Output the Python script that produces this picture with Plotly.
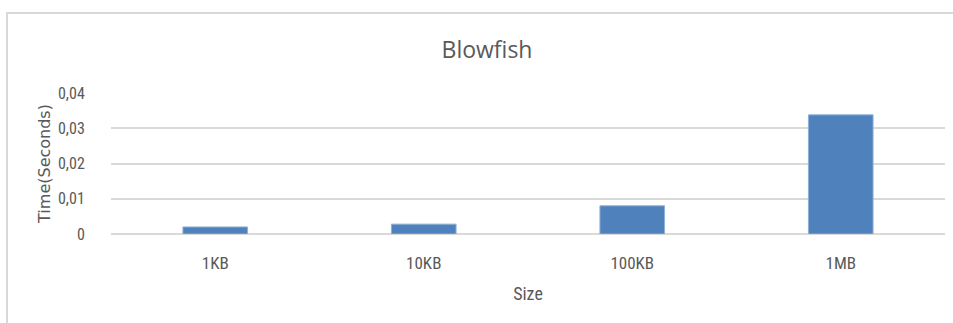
import plotly.graph_objects as go

categories = ["1KB", "10KB", "100KB", "1MB"]
times = [0.002, 0.0028, 0.008, 0.0338]
y_tickvals = [0, 0.01, 0.02, 0.03, 0.04]
y_ticktext = ["0", "0,01", "0,02", "0,03", "0,04"]

W, H = 953, 323
L, R, T, B = 111, 8, 93, 89
pw, ph = W - L - R, H - T - B

def px_x(x):
    return (x - L) / pw

def px_y(y):
    return (H - B - y) / ph

font_main = "Roboto Condensed, Liberation Sans Narrow, Lato, sans-serif"
txt = "#595959"

fig = go.Figure(go.Bar(
    x=categories, y=times,
    marker=dict(color="#4f81bd", line=dict(color="#8fb0d8", width=1)),
    width=0.31,
))

fig.update_layout(
    width=W, height=H,
    margin=dict(l=L, r=R, t=T, b=B),
    paper_bgcolor="white", plot_bgcolor="white",
    showlegend=False,
    separators=", ",
    title=dict(text="Blowfish", x=px_x(487), xref="paper", xanchor="center",
               y=1 - 50 / H, yanchor="middle",
               font=dict(family="Open Sans, sans-serif", size=23, color=txt)),
    font=dict(family=font_main, color=txt, size=14),
    bargap=0.69,
)

fig.update_xaxes(
    showgrid=False, zeroline=False, showline=False,
    tickfont=dict(family=font_main, size=17, color=txt),
    ticks="outside", ticklen=14, tickcolor="rgba(0,0,0,0)",
    title=dict(text="Size", font=dict(family=font_main, size=18, color=txt), standoff=14),
)

fig.update_yaxes(
    range=[0, 0.04], tickvals=y_tickvals, ticktext=y_ticktext,
    showgrid=True, gridcolor="#d9d9d9", gridwidth=2,
    zeroline=True, zerolinecolor="#d9d9d9", zerolinewidth=2,
    showline=False,
    tickfont=dict(family=font_main, size=16, color=txt),
    ticks="outside", ticklen=22, tickcolor="rgba(0,0,0,0)",
    title=dict(text="Time(Seconds)", font=dict(family="DejaVu Sans, Verdana, sans-serif", size=16, color=txt), standoff=3),
)

# Chart-area border (top and left visible)
fig.add_shape(type="rect", xref="paper", yref="paper",
              x0=px_x(7), x1=px_x(W + 10), y0=px_y(H + 10), y1=px_y(13),
              line=dict(color="#d9d9d9", width=2), fillcolor="rgba(0,0,0,0)", layer="below")

fig.write_html("out.html")
